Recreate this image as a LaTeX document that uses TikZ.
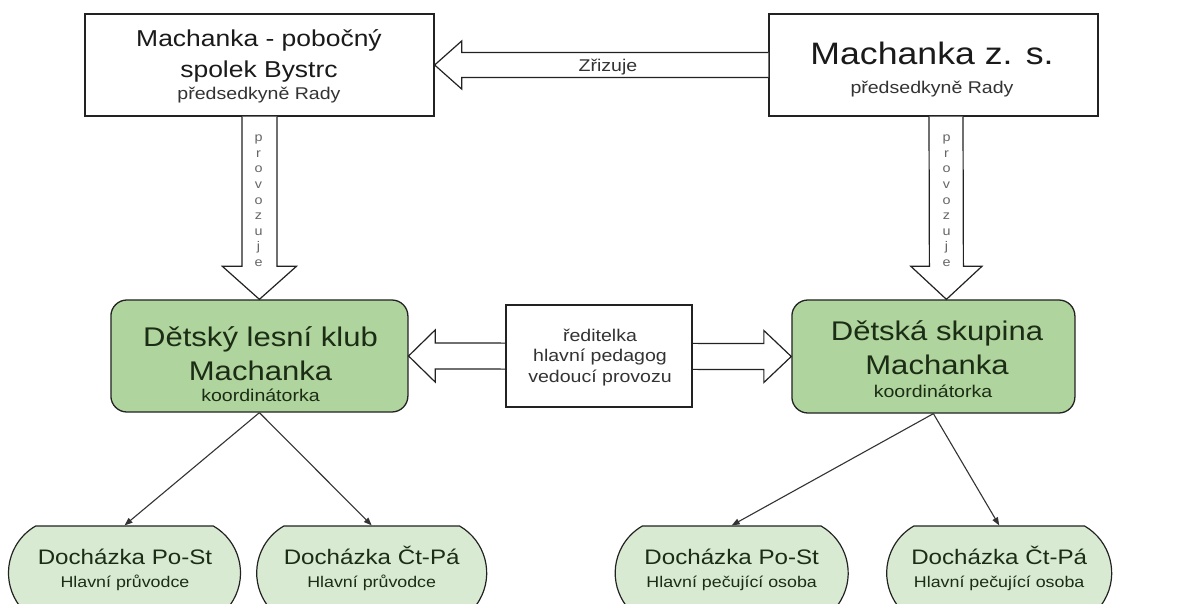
\documentclass[tikz,border=0pt]{standalone}
\usepackage{fontspec}
\setmainfont{Liberation Sans}[FakeStretch=1.15]
\usetikzlibrary{shapes.misc,arrows.meta,calc}
\definecolor{boxline}{HTML}{222222}
\definecolor{greenfill}{HTML}{B0D49D}
\definecolor{ovalfill}{HTML}{D9EAD3}
\definecolor{greentext}{HTML}{1B2D14}
\definecolor{darktext}{HTML}{1A1A1A}
\definecolor{subtext}{HTML}{333333}
\definecolor{lettertext}{HTML}{666666}
\newcommand{\fsz}[1]{\fontsize{#1}{#1}\selectfont}
\begin{document}
\begin{tikzpicture}[x=1pt,y=-1pt,
  plainbox/.style={draw=boxline, line width=1.3pt, fill=white, inner sep=0pt},
  greenbox/.style={draw=boxline, line width=1.3pt, fill=greenfill, rounded corners=16pt, inner sep=0pt},
  ovalbox/.style={rounded rectangle, rounded rectangle arc length=120, draw=boxline, line width=1.2pt, fill=ovalfill, inner sep=0pt, minimum height=94pt},
  blockarrow/.style={draw=boxline, line width=1.2pt, fill=white, line join=miter},
  conn/.style={draw=subtext, line width=1.1pt, -{Triangle[length=8pt,width=6pt]}},
  txt/.style={anchor=base, inner sep=0pt},
  bigtitle/.style={txt, text=darktext, font=\fsz{23}},
  hugetitle/.style={txt, text=darktext, font=\fsz{31}},
  subtitle/.style={txt, text=subtext, font=\fsz{17}},
  greentitle/.style={txt, text=greentext, font=\fsz{27}},
  greensub/.style={txt, text=greentext, font=\fsz{17}},
  ovaltitle/.style={txt, text=greentext, font=\fsz{21}},
  ovalsub/.style={txt, text=greentext, font=\fsz{15.5}},
  letter/.style={txt, text=lettertext, font=\fsz{12.5}}
]
\clip (0,0) rectangle (1187,604);
\fill[white] (0,0) rectangle (1187,604);

% top boxes
\node[plainbox, minimum width=349pt, minimum height=102pt] (tl) at (259.5,65) {};
\node[plainbox, minimum width=329pt, minimum height=102pt] (tr) at (933.5,65) {};

% green boxes
\node[greenbox, minimum width=297pt, minimum height=112pt] (dl) at (259.4,356) {};
\node[greenbox, minimum width=283pt, minimum height=113pt] (dr) at (933.4,356.5) {};

% Zrizuje arrow
\draw[blockarrow] ($(tr.west)+(0,-12.5)$) -- ($(tl.east)+(27,-12.5)$) -- ($(tl.east)+(27,-24)$) -- (tl.east) -- ($(tl.east)+(27,24)$) -- ($(tl.east)+(27,12.5)$) -- ($(tr.west)+(0,12.5)$);
\node[subtitle] (zr) at (608,71.7) {Zřizuje};

% vertical arrows
\coordinate (la1) at (tl.south);
\coordinate (la2) at (dl.north);
\draw[blockarrow] ($(la1)+(-17.5,0)$) -- ($(la2)+(-17.5,-33)$) -- ($(la2)+(-37,-33)$) -- (la2) -- ($(la2)+(37,-33)$) -- ($(la2)+(17.5,-33)$) -- ($(la1)+(17.5,0)$);
\coordinate (ra1) at ($(tr.south)+(12.5,0)$);
\coordinate (ra2) at ($(dr.north)+(13,0)$);
\draw[blockarrow] ($(ra1)+(-17,0)$) -- ($(ra2)+(-17,-33)$) -- ($(ra2)+(-35.5,-33)$) -- (ra2) -- ($(ra2)+(35.5,-33)$) -- ($(ra2)+(17,-33)$) -- ($(ra1)+(17,0)$);
\foreach \c [count=\i from 0] in {p,r,o,v,o,z,u,j,e} {
  \node[letter] (lp\i) at (258.5,141.7+15.6*\i) {\c};
  \node[letter] (rp\i) at (946.5,141.7+15.6*\i) {\c};
}

% double arrow
\draw[blockarrow] (dl.east) -- ($(dl.east)+(26.6,-26)$) -- ($(dl.east)+(26.6,-13)$) -- ($(dr.west)+(-27.4,-13)$) -- ($(dr.west)+(-27.4,-26)$) -- (dr.west) -- ($(dr.west)+(-27.4,26)$) -- ($(dr.west)+(-27.4,13)$) -- ($(dl.east)+(26.6,13)$) -- ($(dl.east)+(26.6,26)$) -- cycle;
\node[plainbox, minimum width=186pt, minimum height=102pt] (mid) at (599,356) {};

% ovals
\node[ovalbox, minimum width=232pt] (o1) at (124.5,573) {};
\node[ovalbox, minimum width=230pt] (o2) at (371.7,573) {};
\node[ovalbox, minimum width=233pt] (o3) at (731.7,573) {};
\node[ovalbox, minimum width=225pt] (o4) at (999.2,573) {};

% connectors
\draw[conn] (dl.south) -- (o1.north);
\draw[conn] (dl.south) -- (o2.north);
\draw[conn] (dr.south) -- (o3.north);
\draw[conn] (dr.south) -- (o4.north);

% texts
\node[bigtitle] (t1a) at (259,47) {Machanka - pobočný};
\node[bigtitle] (t1b) at (259,78) {spolek Bystrc};
\node[subtitle] (t1c) at (259,100) {předsedkyně Rady};
\node[hugetitle] (t2a) at (932,65) {Machanka z. s.};
\node[subtitle] (t2b) at (932,94) {předsedkyně Rady};

\node[greentitle] (g1a) at (260.5,346) {Dětský lesní klub};
\node[greentitle] (g1b) at (260.5,381) {Machanka};
\node[greensub] (g1c) at (260.5,401) {koordinátorka};
\node[greentitle] (g2a) at (937,341) {Dětská skupina};
\node[greentitle] (g2b) at (937,374) {Machanka};
\node[greensub] (g2c) at (933,397) {koordinátorka};

\node[subtitle] (m1) at (600,341.7) {ředitelka};
\node[subtitle] (m2) at (600,361.7) {hlavní pedagog};
\node[subtitle] (m3) at (600,382.7) {vedoucí provozu};

\node[ovaltitle] (d1a) at (125,564) {Docházka Po-St};
\node[ovalsub] (d1b) at (125,587.7) {Hlavní průvodce};
\node[ovaltitle] (d2a) at (371.7,564) {Docházka Čt-Pá};
\node[ovalsub] (d2b) at (371.7,587.7) {Hlavní průvodce};
\node[ovaltitle] (d3a) at (731.7,564) {Docházka Po-St};
\node[ovalsub] (d3b) at (731.7,587) {Hlavní pečující osoba};
\node[ovaltitle] (d4a) at (999.2,564) {Docházka Čt-Pá};
\node[ovalsub] (d4b) at (999.2,587) {Hlavní pečující osoba};
\end{tikzpicture}
\end{document}
